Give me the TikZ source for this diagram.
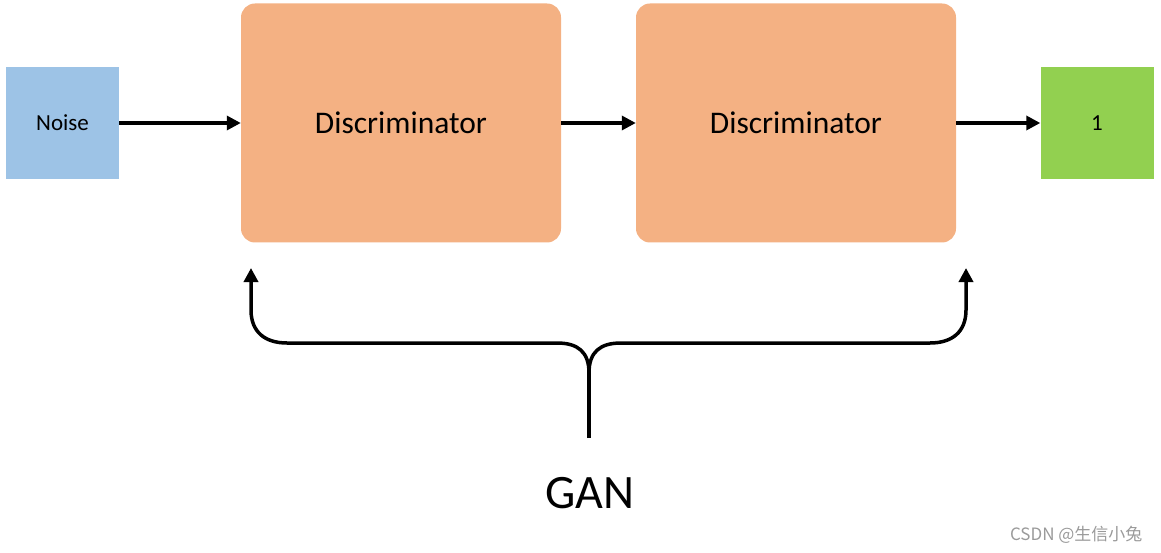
\documentclass[tikz,border=0pt]{standalone}
\usepackage{fontspec}
\setmainfont{Carlito}
\newfontfamily\cjk{Noto Sans CJK SC}
\usetikzlibrary{arrows.meta}
\definecolor{noisefill}{HTML}{9DC3E6}
\definecolor{discfill}{HTML}{F4B183}
\definecolor{onefill}{HTML}{92D050}
\definecolor{wmgray}{HTML}{9A9A9A}
\begin{document}
\begin{tikzpicture}[x=1pt,y=-1pt,
  sqbox/.style={draw=none, minimum width=113pt, minimum height=112pt, inner sep=0pt},
  disc/.style={fill=discfill, draw=none, rounded corners=14pt, minimum width=320pt, minimum height=239pt, inner sep=0pt, font=\fontsize{31.5}{34}\selectfont},
  conn/.style={line width=3.3pt, -{Triangle[length=14pt,width=14pt]}},
  line/.style={line width=3.5pt}]
\useasboundingbox (0,0) rectangle (1161,553);
\node[sqbox, fill=noisefill, font=\fontsize{23}{25}\selectfont] (noise) at (62.5,123) {Noise};
\node[disc] (d1) at (401,123) {Discriminator};
\node[disc] (d2) at (796,123) {Discriminator};
\node[sqbox, fill=onefill, font=\fontsize{23}{25}\selectfont] (one) at (1097,123) {1};
\draw[conn] (noise.east) -- (d1.west);
\draw[conn] (d1.east) -- (d2.west);
\draw[conn] (d2.east) -- (one.west);
\coordinate (g) at (589,438);
\coordinate (fork) at (589,373);
\coordinate (la) at (251,268);
\coordinate (ra) at (966,268);
\draw[line] (g) -- (fork);
\draw[line, conn, line width=3.5pt] (fork) .. controls (589,352) and (578,343) .. (557,343) -- (287,343) .. controls (265,343) and (251,332) .. (251,310) -- (la);
\draw[line, conn, line width=3.5pt] (fork) .. controls (589,352) and (600,343) .. (621,343) -- (930,343) .. controls (952,343) and (966,332) .. (966,310) -- (ra);
\node[font=\fontsize{48}{52}\selectfont] (gan) at (590,493) {GAN};
\node[text=wmgray, font=\cjk\fontsize{17}{19}\selectfont, anchor=east] (wm) at (1146,535) {CSDN @生信小兔};
\end{tikzpicture}
\end{document}
